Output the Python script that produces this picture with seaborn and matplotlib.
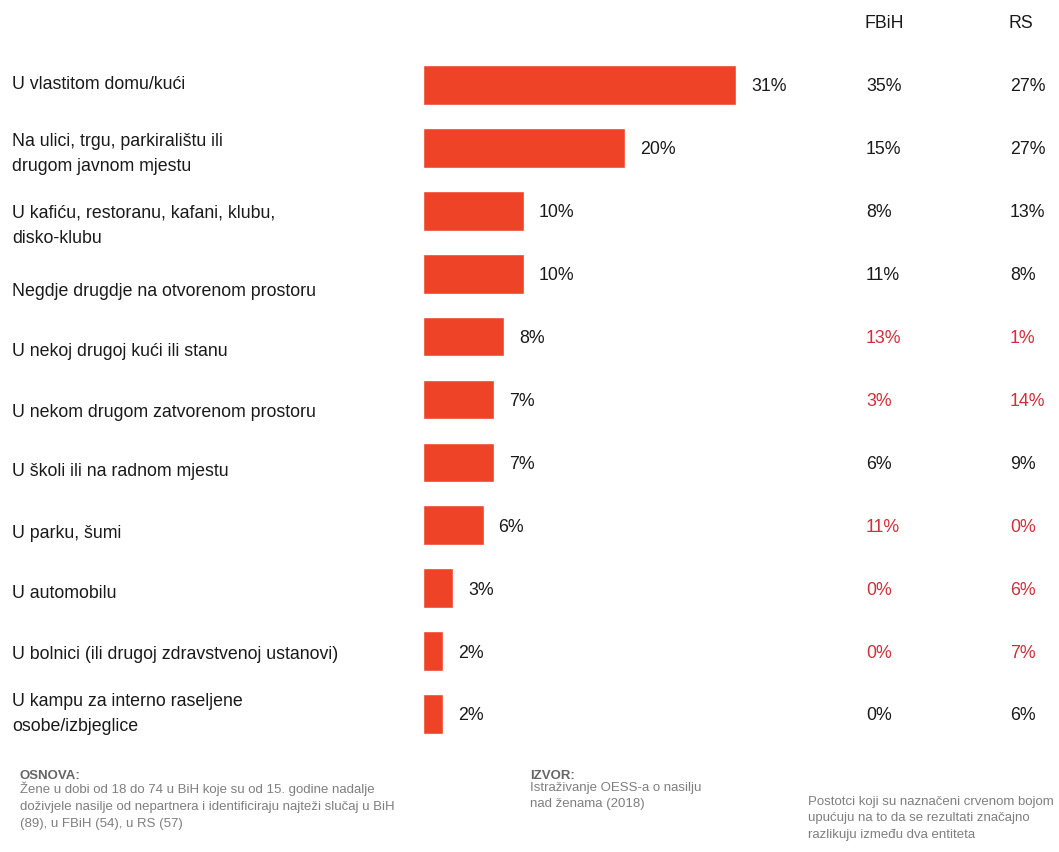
import matplotlib
matplotlib.use("Agg")
import matplotlib.pyplot as plt
import matplotlib.transforms as mtransforms
from matplotlib import font_manager
import seaborn as sns

# data
places = [
    "U vlastitom domu/kući",
    "Na ulici, trgu, parkiralištu ili\ndrugom javnom mjestu",
    "U kafiću, restoranu, kafani, klubu,\ndisko-klubu",
    "Negdje drugdje na otvorenom prostoru",
    "U nekoj drugoj kući ili stanu",
    "U nekom drugom zatvorenom prostoru",
    "U školi ili na radnom mjestu",
    "U parku, šumi",
    "U automobilu",
    "U bolnici (ili drugoj zdravstvenoj ustanovi)",
    "U kampu za interno raseljene\nosobe/izbjeglice",
]
bih = [31, 20, 10, 10, 8, 7, 7, 6, 3, 2, 2]
fbih = [35, 15, 8, 11, 13, 3, 6, 11, 0, 0, 0]
rs = [27, 27, 13, 8, 1, 14, 9, 0, 6, 7, 6]
significant = [False, False, False, False, True, True, False, True, True, True, False]

# label nudge (pixels down) so the left labels sit as in the original
label_nudge = [0, 6, 15, 18, 15, 13, 9, 8, 5, 3, 0]

BAR = "#EE4327"
RED = "#D12F3A"
INK = "#1a1a1a"
GREY = "#7f7f7f"

sns.set_style("white")
names = {f.name for f in font_manager.fontManager.ttflist}
fam = "Liberation Sans Narrow" if "Liberation Sans Narrow" in names else "Liberation Sans"
plt.rcParams["font.family"] = [fam, "DejaVu Sans"]

W, H = 1059, 852
fig = plt.figure(figsize=(W / 100, H / 100), dpi=100)
px_per_pct = 10.1
ax_left, ax_right = 423, W
row_h = 62.9
top_px = 85 - row_h / 2
ax = fig.add_axes([ax_left / W, 1 - (top_px + 11 * row_h) / H,
                   (ax_right - ax_left) / W, 11 * row_h / H])

sns.barplot(x=bih, y=list(range(len(places))), orient="h", color=BAR,
            width=0.63, saturation=1, ax=ax)
ax.set_xlim(0, (ax_right - ax_left) / px_per_pct)
ax.set_ylim(len(places) - 0.5, -0.5)
ax.axis("off")

fs = 12.8
blend = mtransforms.blended_transform_factory(fig.transFigure, ax.transData)

for i, (lab, v, f, r, sig) in enumerate(zip(places, bih, fbih, rs, significant)):
    ax.annotate(f"{v}%", xy=(v, i), xytext=(15, -2), textcoords="offset pixels",
                va="center", ha="left", fontsize=fs, color=INK)
    ax.annotate(lab, xy=(12 / W, i), xycoords=blend, xytext=(0, -label_nudge[i]),
                textcoords="offset pixels", va="center", ha="left",
                fontsize=fs, color=INK, linespacing=1.65)
    c = RED if sig else INK
    ax.annotate(f"{f}%", xy=(866 / W, i), xycoords=blend, xytext=(0, -2),
                textcoords="offset pixels", va="center", ha="left", fontsize=fs, color=c)
    ax.annotate(f"{r}%", xy=(1010 / W, i), xycoords=blend, xytext=(0, -2),
                textcoords="offset pixels", va="center", ha="left", fontsize=fs, color=c)

fig.text(864 / W, 1 - 23 / H, "FBiH", fontsize=fs, color=INK, va="center", ha="left")
fig.text(1008 / W, 1 - 23 / H, "RS", fontsize=fs, color=INK, va="center", ha="left")

# footer notes
sm = 9.5
fig.text(20 / W, 1 - 776 / H, "OSNOVA:", fontsize=sm, color="#666666",
         fontweight="bold", va="center")
fig.text(20 / W, 1 - 782 / H,
         "Žene u dobi od 18 do 74 u BiH koje su od 15. godine nadalje\n"
         "doživjele nasilje od nepartnera i identificiraju najteži slučaj u BiH\n"
         "(89), u FBiH (54), u RS (57)",
         fontsize=sm, color=GREY, va="top", linespacing=1.5)
fig.text(530 / W, 1 - 776 / H, "IZVOR:", fontsize=sm, color="#666666",
         fontweight="bold", va="center")
fig.text(530 / W, 1 - 782 / H, "Istraživanje OESS-a o nasilju\nnad ženama (2018)",
         fontsize=sm, color=GREY, va="top", linespacing=1.5)
fig.text(808 / W, 1 - 796 / H,
         "Postotci koji su naznačeni crvenom bojom\n"
         "upućuju na to da se rezultati značajno\n"
         "razlikuju između dva entiteta",
         fontsize=sm, color=GREY, va="top", linespacing=1.5)

fig.savefig("out.png", dpi=100, facecolor="white")
